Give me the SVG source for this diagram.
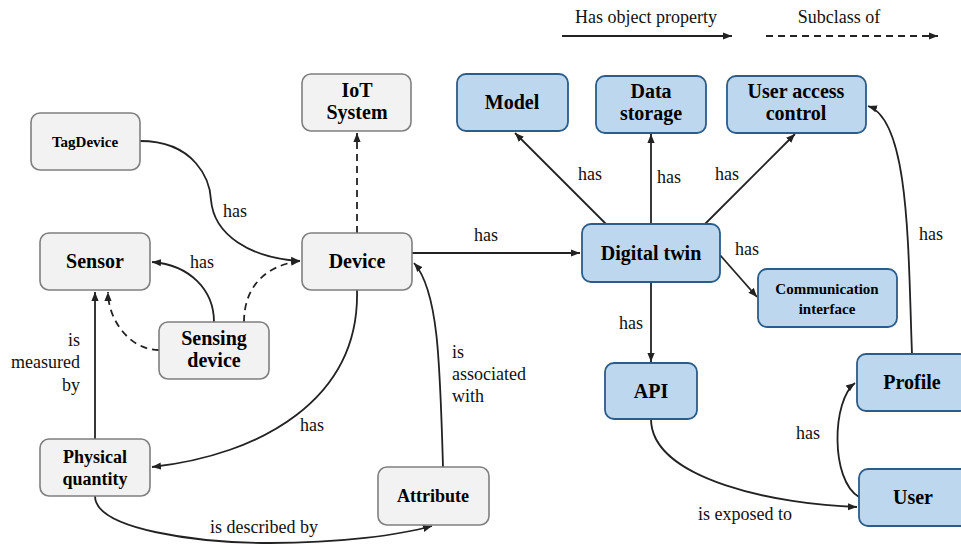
<svg xmlns="http://www.w3.org/2000/svg" width="961" height="544" viewBox="0 0 961 544">
<style>
.g rect{fill:#f2f2f2;stroke:#7f7f7f;stroke-width:1.6}
.b rect{fill:#bdd7ee;stroke:#2b5c8a;stroke-width:1.8}
text{font-family:"Liberation Serif","Times New Roman","DejaVu Serif",serif}
.nl{font-weight:bold;font-size:20px;fill:#000;text-anchor:middle}
.ns{font-size:15px}
.nm{font-size:18px}
.el{font-size:18px;fill:#111}
.c path,.c line{fill:none;stroke:#222;stroke-width:1.8}
.c .d{stroke-dasharray:7,5}
</style>
<defs>
<marker id="a" viewBox="0 0 10 10" refX="10" refY="5" markerWidth="9" markerHeight="9" markerUnits="userSpaceOnUse" orient="auto">
<path d="M0,1 L10,5 L0,9 z" fill="#222"/>
</marker>
</defs>

<g id="legend">
<text class="el" x="646" y="23" text-anchor="middle">Has object property</text>
<text class="el" x="839" y="23" text-anchor="middle">Subclass of</text>
<line x1="562" y1="36" x2="732" y2="36" stroke="#222" stroke-width="1.8" marker-end="url(#a)"/>
<line x1="766" y1="36" x2="938" y2="36" stroke="#222" stroke-width="1.8" stroke-dasharray="7,5" marker-end="url(#a)"/>
</g>

<g class="c" id="connectors">
<path d="M140,141 C195,141 210,180 211,200 C214,235 250,258 300,261" marker-end="url(#a)"/>
<path d="M214,322 C214,290 190,265 152,262" marker-end="url(#a)"/>
<path class="d" d="M244,322 C244,290 262,266 300,261" marker-end="url(#a)"/>
<path class="d" d="M159,350 C130,350 108,320 108,292" marker-end="url(#a)"/>
<line x1="95" y1="439" x2="95" y2="292" marker-end="url(#a)"/>
<path d="M357,290 C360,400 260,455 152,467" marker-end="url(#a)"/>
<path d="M443,467 C440,360 438,290 414,263" marker-end="url(#a)"/>
<path d="M95,496 C95,530 200,543 270,543 C340,543 400,535 432,526" marker-end="url(#a)"/>
<line class="d" x1="357" y1="233" x2="357" y2="133" marker-end="url(#a)"/>
<line x1="412" y1="253" x2="580" y2="253" marker-end="url(#a)"/>
<line x1="606" y1="224" x2="515" y2="133" marker-end="url(#a)"/>
<line x1="651" y1="224" x2="651" y2="134" marker-end="url(#a)"/>
<line x1="705" y1="224" x2="795" y2="134" marker-end="url(#a)"/>
<line x1="720" y1="255" x2="757" y2="297" marker-end="url(#a)"/>
<line x1="651" y1="282" x2="651" y2="362" marker-end="url(#a)"/>
<path d="M651,419 C651,480 780,505 857,507" marker-end="url(#a)"/>
<path d="M859,497 C830,480 832,400 855,383" marker-end="url(#a)"/>
<path d="M912,354 C908,250 910,120 868,106" marker-end="url(#a)"/>
</g>

<g id="edge-labels">
<text class="el" x="235" y="217" text-anchor="middle">has</text>
<text class="el" x="202" y="268" text-anchor="middle">has</text>
<text class="el" x="80" y="346" text-anchor="end">is</text>
<text class="el" x="80" y="368" text-anchor="end">measured</text>
<text class="el" x="80" y="391" text-anchor="end">by</text>
<text class="el" x="312" y="431" text-anchor="middle">has</text>
<text class="el" x="452" y="358">is</text>
<text class="el" x="452" y="380">associated</text>
<text class="el" x="452" y="402">with</text>
<text class="el" x="264" y="533" text-anchor="middle">is described by</text>
<text class="el" x="486" y="241" text-anchor="middle">has</text>
<text class="el" x="590" y="180" text-anchor="middle">has</text>
<text class="el" x="669" y="183" text-anchor="middle">has</text>
<text class="el" x="727" y="180" text-anchor="middle">has</text>
<text class="el" x="747" y="255" text-anchor="middle">has</text>
<text class="el" x="931" y="240" text-anchor="middle">has</text>
<text class="el" x="631" y="329" text-anchor="middle">has</text>
<text class="el" x="808" y="439" text-anchor="middle">has</text>
<text class="el" x="745" y="520" text-anchor="middle">is exposed to</text>
</g>

<g id="tagdevice" class="g"><rect x="31" y="113" width="109" height="57" rx="9"/><text class="nl ns" x="85" y="147">TagDevice</text></g>
<g id="iot-system" class="g"><rect x="302" y="74" width="109" height="57" rx="9"/><text class="nl" x="357" y="97">IoT</text><text class="nl" x="357" y="119">System</text></g>
<g id="sensor" class="g"><rect x="40" y="233" width="110" height="57" rx="9"/><text class="nl" x="95" y="268">Sensor</text></g>
<g id="device" class="g"><rect x="302" y="233" width="110" height="57" rx="9"/><text class="nl" x="357" y="268">Device</text></g>
<g id="sensing-device" class="g"><rect x="159" y="322" width="110" height="57" rx="9"/><text class="nl" x="214" y="345">Sensing</text><text class="nl" x="214" y="367">device</text></g>
<g id="physical-quantity" class="g"><rect x="40" y="439" width="110" height="57" rx="9"/><text class="nl nm" x="95" y="463">Physical</text><text class="nl nm" x="95" y="485">quantity</text></g>
<g id="attribute" class="g"><rect x="378" y="467" width="111" height="58" rx="9"/><text class="nl nm" x="433" y="502">Attribute</text></g>

<g id="model" class="b"><rect x="457" y="74" width="111" height="57" rx="9"/><text class="nl" x="512" y="109">Model</text></g>
<g id="data-storage" class="b"><rect x="596" y="76" width="110" height="57" rx="9"/><text class="nl" x="651" y="98">Data</text><text class="nl" x="651" y="120">storage</text></g>
<g id="user-access-control" class="b"><rect x="727" y="76" width="139" height="57" rx="9"/><text class="nl" x="796" y="98">User access</text><text class="nl" x="796" y="120">control</text></g>
<g id="digital-twin" class="b"><rect x="582" y="224" width="138" height="58" rx="9"/><text class="nl" x="651" y="260">Digital twin</text></g>
<g id="communication-interface" class="b"><rect x="758" y="269" width="139" height="58" rx="9"/><text class="nl ns" x="827" y="294">Communication</text><text class="nl ns" x="827" y="314">interface</text></g>
<g id="api" class="b"><rect x="605" y="363" width="92" height="56" rx="9"/><text class="nl" x="651" y="398">API</text></g>
<g id="profile" class="b"><rect x="857" y="354" width="112" height="57" rx="9"/><text class="nl" x="912" y="389">Profile</text></g>
<g id="user" class="b"><rect x="859" y="469" width="112" height="57" rx="9"/><text class="nl" x="913" y="504">User</text></g>
</svg>
